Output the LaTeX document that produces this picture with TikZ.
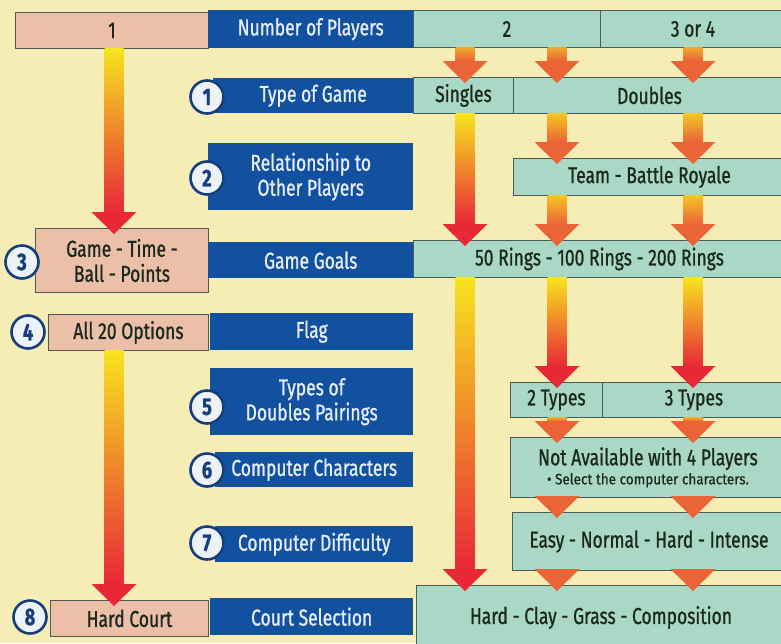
\documentclass[tikz,border=0pt]{standalone}
\usepackage{fontspec}
\setmainfont{Fira Sans}[FakeStretch=0.76, FakeBold=0.9]
\newfontfamily\notefont{Fira Sans}[FakeStretch=0.9, FakeBold=0.6]
\usepackage{tikz}
\usetikzlibrary{positioning, calc}
\definecolor{bgcream}{RGB}{246,237,180}
\definecolor{pinkfill}{RGB}{236,192,168}
\definecolor{greenfill}{RGB}{170,216,198}
\definecolor{bluefill}{RGB}{18,80,160}
\definecolor{bluetext}{RGB}{232,238,248}
\definecolor{boxline}{RGB}{80,90,85}
\definecolor{darktext}{RGB}{28,40,30}
\definecolor{circline}{RGB}{22,62,125}
\definecolor{circfill}{RGB}{236,242,248}
\definecolor{arryellow}{RGB}{247,228,30}
\definecolor{arrorange}{RGB}{240,165,45}
\definecolor{arrorred}{RGB}{235,100,55}
\definecolor{arrred}{RGB}{232,40,55}
\tikzset{
  box/.style={rectangle, anchor=north west, inner sep=0pt, align=center,
    font=\fontsize{23}{25}\selectfont},
  pinkbox/.style={box, draw=boxline, fill=pinkfill, text=darktext, line width=0.9pt},
  bluebox/.style={box, fill=bluefill, text=bluetext},
  greenbox/.style={box, draw=boxline, fill=greenfill, text=darktext, line width=0.9pt},
  numcircle/.style={circle, draw=circline, fill=circfill, text=circline,
    line width=2.6pt, minimum size=33pt, inner sep=0pt,
    font=\fontsize{24}{24}\selectfont\bfseries}
}
% fat shaded arrow: from, to, shaft top colour, head colour
\newcommand{\fatarrow}[4]{%
  \path (#1) coordinate (fa-s) (#2) coordinate (fa-t);
  \shade[top color=#3, bottom color=#4] ($(fa-s)+(-9.5,0)$) rectangle ($(fa-t)+(9.5,-16)$);
  \fill[#4] ($(fa-t)+(-22.5,-16)$) -- ($(fa-t)+(22.5,-16)$) -- ($(fa-t)+(0,6)$) -- cycle;
}

\begin{document}
\begin{tikzpicture}[x=1pt, y=-1pt]
  \useasboundingbox (0,0) rectangle (781,643);
  \clip (0,0) rectangle (781,643);
  \fill[bgcream] (0,0) rectangle (781,643);

  % number of players
  \node[pinkbox, minimum width=193pt, minimum height=36pt] (one) at (15,12) {1};
  \node[bluebox, minimum width=205pt, minimum height=38pt] (players) at (208,10) {Number of Players};
  \node[greenbox, minimum width=187pt, minimum height=37pt] (two) at (413,10) {2};
  \node[greenbox, minimum width=185pt, minimum height=37pt] (threefour) at (600,10) {3 or 4};

  % 1 type of game
  \node[bluebox, minimum width=200pt, minimum height=35pt] (gametype) at (213,78) {Type of Game};
  \node[greenbox, minimum width=100pt, minimum height=36pt] (singles) at (413,77) {Singles};
  \node[greenbox, minimum width=272pt, minimum height=36pt] (doubles) at (513,77) {Doubles};

  % 2 relationship
  \node[bluebox, minimum width=205pt, minimum height=67pt] (relation) at (208,143) {Relationship to\\Other Players};
  \node[greenbox, minimum width=272pt, minimum height=37pt] (team) at (513,158) {Team - Battle Royale};

  % 3 game goals
  \node[pinkbox, minimum width=173pt, minimum height=64pt] (gametime) at (35,228) {Game - Time -\\Ball - Points};
  \node[bluebox, minimum width=205pt, minimum height=36pt] (goals) at (208,242) {Game Goals};
  \node[greenbox, minimum width=372pt, minimum height=37pt] (rings) at (413,240) {50 Rings - 100 Rings - 200 Rings};

  % 4 flag
  \node[pinkbox, minimum width=160pt, minimum height=36pt] (alloptions) at (48,314) {All 20 Options};
  \node[bluebox, minimum width=203pt, minimum height=37pt] (flag) at (210,313) {Flag};

  % 5 pairings
  \node[bluebox, minimum width=203pt, minimum height=67pt] (pairings) at (210,368) {Types of\\Doubles Pairings};
  \node[greenbox, minimum width=92pt, minimum height=35pt] (twotypes) at (510,382) {2 Types};
  \node[greenbox, minimum width=183pt, minimum height=35pt] (threetypes) at (602,382) {3 Types};

  % 6 computer characters
  \node[bluebox, minimum width=198pt, minimum height=35pt] (charas) at (215,452) {Computer Characters};
  \node[greenbox, minimum width=275pt, minimum height=60pt] (notavail) at (510,437)
    {Not Available with 4 Players\\[-6pt]{\notefont\fontsize{15}{16}\selectfont \textbullet\ Select the computer characters.}};

  % 7 difficulty
  \node[bluebox, minimum width=198pt, minimum height=36pt] (difficulty) at (215,526) {Computer Difficulty};
  \node[greenbox, minimum width=273pt, minimum height=58pt] (easy) at (512,512) {Easy - Normal - Hard - Intense};

  % 8 court
  \node[pinkbox, minimum width=158pt, minimum height=36pt] (hardcourt) at (50,600) {Hard Court};
  \node[bluebox, minimum width=203pt, minimum height=37pt] (court) at (210,598) {Court Selection};
  \node[greenbox, minimum width=369pt, minimum height=64pt] (surfaces) at (416,585) {Hard - Clay - Grass - Composition};

  % step numbers
  \node[numcircle] (n1) at (207,97) {1};
  \node[numcircle] (n2) at (207,178) {2};
  \node[numcircle] (n3) at (22,262) {3};
  \node[numcircle] (n4) at (28,332) {4};
  \node[numcircle] (n5) at (207,407) {5};
  \node[numcircle] (n6) at (207,470) {6};
  \node[numcircle] (n7) at (207,543) {7};
  \node[numcircle] (n8) at (30,617) {8};

  % arrow columns
  \coordinate (colL) at (114,0);
  \coordinate (colA) at (465,0);
  \coordinate (colB) at (557,0);
  \coordinate (colC) at (693,0);

  \fatarrow{one.south -| colL}{gametime.north -| colL}{arryellow}{arrred}
  \fatarrow{alloptions.south -| colL}{hardcourt.north -| colL}{arryellow}{arrred}

  \fatarrow{two.south -| colA}{singles.north -| colA}{arrorange}{arrorred}
  \fatarrow{singles.south -| colA}{rings.north -| colA}{arryellow}{arrred}
  \fatarrow{rings.south -| colA}{surfaces.north -| colA}{arryellow}{arrred}

  \foreach \col/\src/\pair in {colB/two/twotypes, colC/threefour/threetypes} {
    \fatarrow{\src.south -| \col}{doubles.north -| \col}{arrorange}{arrorred}
    \fatarrow{doubles.south -| \col}{team.north -| \col}{arryellow!50!arrorange}{arrorred}
    \fatarrow{team.south -| \col}{rings.north -| \col}{arryellow!50!arrorange}{arrorred}
    \fatarrow{rings.south -| \col}{\pair.north -| \col}{arryellow}{arrred}
    \fatarrow{\pair.south -| \col}{notavail.north -| \col}{arrorange}{arrorred}
    \fatarrow{notavail.south -| \col}{easy.north -| \col}{arrorange}{arrorred}
    \fatarrow{easy.south -| \col}{surfaces.north -| \col}{arrorange}{arrorred}
  }
\end{tikzpicture}
\end{document}
